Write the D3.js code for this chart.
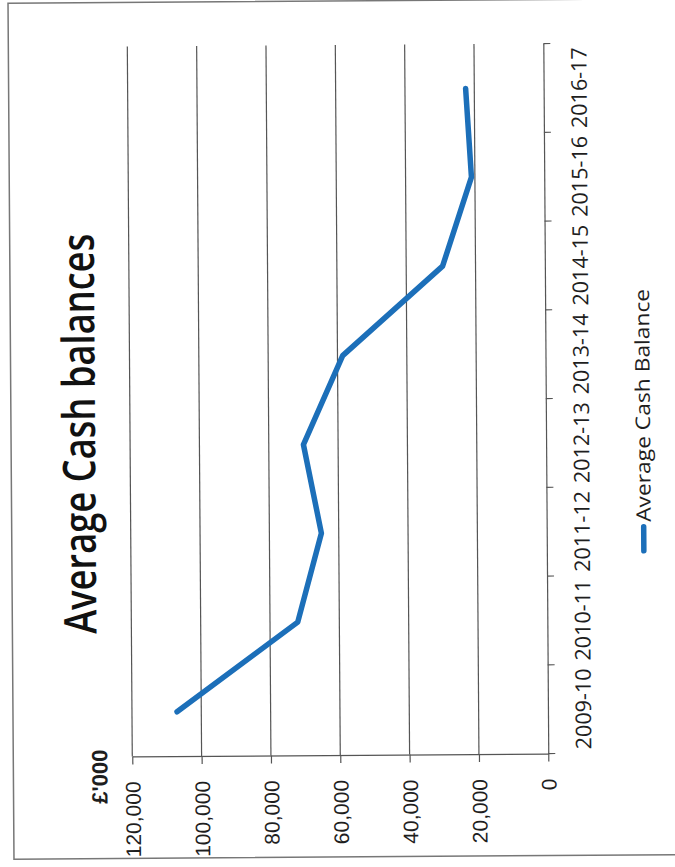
<!DOCTYPE html>
<html>
<head>
<meta charset="utf-8">
<script src="https://cdn.jsdelivr.net/npm/d3@7"></script>
<style>
  html, body { margin: 0; padding: 0; background: #fff; }
  svg { display: block; }
</style>
</head>
<body>
<svg id="chart" width="675" height="867"></svg>
<script>
// Financial years shown on the category axis (bottom to top on the page)
const categories = ["2009-10", "2010-11", "2011-12", "2012-13", "2013-14", "2014-15", "2015-16", "2016-17"];
// Average cash balance per year, £'000
const cashBalance = [107000, 72000, 65000, 70000, 58500, 29500, 21000, 22500];
// Value axis tick labels
const valueTicks = [0, 20000, 40000, 60000, 80000, 100000, 120000];

const titleText = "Average Cash balances";
const unitText = "£'000";
const seriesName = "Average Cash Balance";

const svg = d3.select("#chart");
const lineColor = "#1c6fb9";
const gridColor = "#555";
const textColor = "#1e1e1e";
const humanistFont = "'Open Sans', 'Noto Sans', sans-serif";
const arialFont = "'Liberation Sans', Arial, sans-serif";

// The chart is laid on its side: values run right-to-left, years run bottom-to-top.
const root = svg.append("g").attr("transform", "rotate(-0.4, 337, 430)");

// Outer chart border
root.append("rect")
  .attr("x", 11).attr("y", 1)
  .attr("width", 700).attr("height", 856)
  .attr("fill", "none").attr("stroke", "#777").attr("stroke-width", 1.5);

const x = d3.scaleLinear().domain([0, 120000]).range([546, 130]);
const y = d3.scaleBand().domain(categories).range([755, 45]);

// Vertical gridlines at each value tick
root.append("g").selectAll("line")
  .data(valueTicks.filter(d => d > 0))
  .join("line")
  .attr("x1", d => x(d)).attr("x2", d => x(d))
  .attr("y1", 45).attr("y2", 755)
  .attr("stroke", gridColor).attr("stroke-width", 1.2);

// Value axis along the bottom
const valueAxis = root.append("g")
  .attr("transform", "translate(0,755)")
  .call(d3.axisBottom(x).tickValues(valueTicks).tickSize(8).tickSizeOuter(0)
    .tickFormat(d3.format(",")));
valueAxis.select(".domain").attr("stroke", gridColor).attr("stroke-width", 1.2);
valueAxis.selectAll(".tick line").attr("stroke", gridColor).attr("stroke-width", 1.2);
valueAxis.selectAll(".tick text")
  .attr("font-family", arialFont).attr("font-size", 21).attr("fill", textColor)
  .attr("text-anchor", "end")
  .attr("transform", "translate(0,25) rotate(-90)")
  .attr("x", 0).attr("y", 0).attr("dy", "0.36em");

// Category axis on the right-hand side
const catAxis = root.append("g")
  .attr("transform", "translate(546,0)")
  .call(d3.axisRight(y).tickSize(0).tickSizeOuter(0).tickPadding(0));
catAxis.select(".domain").attr("stroke", gridColor).attr("stroke-width", 1.2);
catAxis.selectAll(".tick text")
  .attr("font-family", humanistFont).attr("font-size", 21.5).attr("fill", textColor)
  .attr("text-anchor", "middle")
  .attr("transform", "translate(43,0) rotate(-90)")
  .attr("x", 0).attr("y", 0).attr("dy", "0");

// Tick marks between the year bands
const boundaries = categories.map(c => y(c) + y.bandwidth()).concat([y(categories[categories.length - 1])]);
root.append("g").selectAll("line")
  .data(boundaries)
  .join("line")
  .attr("x1", 546).attr("x2", 553)
  .attr("y1", d => d).attr("y2", d => d)
  .attr("stroke", gridColor).attr("stroke-width", 1.2);

// Series line
const line = d3.line()
  .x(d => x(d.value))
  .y(d => y(d.cat) + y.bandwidth() / 2);
root.append("path")
  .datum(categories.map((c, i) => ({ cat: c, value: cashBalance[i] })))
  .attr("d", line)
  .attr("fill", "none")
  .attr("stroke", lineColor).attr("stroke-width", 5.5)
  .attr("stroke-linejoin", "round").attr("stroke-linecap", "round");

// Title
root.append("text")
  .attr("transform", "translate(95,432) rotate(-90)")
  .attr("text-anchor", "middle")
  .attr("font-family", humanistFont).attr("font-size", 45).attr("font-weight", 600)
  .attr("textLength", 400).attr("lengthAdjust", "spacingAndGlyphs")
  .attr("fill", "#111")
  .text(titleText);

// Unit label above the value scale
root.append("text")
  .attr("transform", "translate(105,748) rotate(-90)")
  .attr("text-anchor", "end")
  .attr("font-family", arialFont).attr("font-size", 22).attr("font-weight", 700)
  .attr("fill", textColor)
  .text(unitText);

// Legend
root.append("line")
  .attr("x1", 643).attr("x2", 643).attr("y1", 553).attr("y2", 529)
  .attr("stroke", lineColor).attr("stroke-width", 5.5).attr("stroke-linecap", "round");
root.append("text")
  .attr("transform", "translate(650,524) rotate(-90)")
  .attr("text-anchor", "start")
  .attr("font-family", humanistFont).attr("font-size", 20)
  .attr("textLength", 233).attr("lengthAdjust", "spacingAndGlyphs")
  .attr("fill", textColor)
  .text(seriesName);
</script>
</body>
</html>
